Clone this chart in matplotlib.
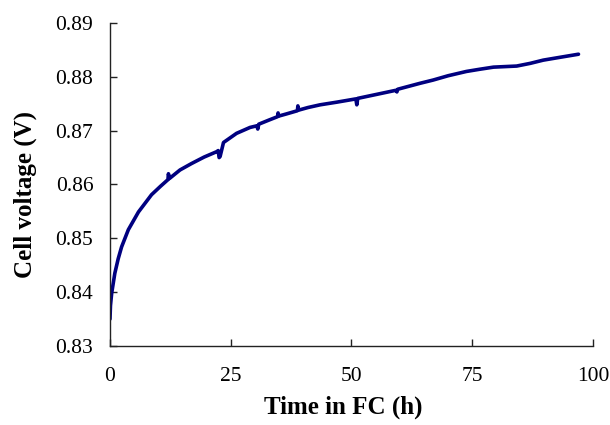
import matplotlib.pyplot as plt

# Cell voltage over time in the fuel cell
time_h = [0.0, 0.1, 0.35, 1.0, 1.7, 2.4, 3.8, 5.9, 8.6, 10.5, 12.0, 12.1, 12.3,
          14.5, 16.9, 19.5, 22.1, 22.4, 22.6, 22.8, 23.5, 26.2, 29.0,
          30.4, 30.6, 30.8, 33.0, 34.7, 34.8, 34.9, 36.5, 38.8, 38.9, 39.0,
          41.0, 43.5, 47.0, 50.9, 51.1, 51.3, 55.0, 59.2, 59.4, 59.6,
          64.2, 66.9, 70.0, 73.8, 76.5, 79.4, 84.2, 87.0, 89.7, 93.0, 97.0]
voltage_v = [0.8350, 0.8375, 0.8398, 0.8435, 0.8462, 0.8484, 0.8516, 0.8549, 0.8581,
             0.8597, 0.8609, 0.8620, 0.8611,
             0.8627, 0.8639, 0.8651, 0.8661, 0.8663, 0.8650, 0.8652, 0.8678, 0.8695, 0.8706,
             0.8709, 0.8703, 0.8712, 0.8720, 0.8726, 0.8733, 0.8727, 0.8731, 0.8737, 0.8746, 0.8738,
             0.8743, 0.8748, 0.8753, 0.8759, 0.8748, 0.8760, 0.8767, 0.8775, 0.8772, 0.8777,
             0.8788, 0.8794, 0.8802, 0.8810, 0.8814, 0.8818, 0.8820, 0.8825, 0.8831, 0.8836, 0.8842]

x_ticks = [0, 25, 50, 75, 100]
y_ticks = [0.83, 0.84, 0.85, 0.86, 0.87, 0.88, 0.89]

plt.rcParams['font.family'] = ['Liberation Serif', 'DejaVu Serif']

fig = plt.figure(figsize=(6.1, 4.25), dpi=100)
ax = fig.add_axes([0.1803, 0.1859, 0.7918, 0.76])

ax.plot(time_h, voltage_v, color='#000080', linewidth=2.6, solid_capstyle='round')

ax.set_xlim(0, 100)
ax.set_ylim(0.83, 0.89)
ax.set_xticks(x_ticks)
ax.set_xticklabels([str(t) for t in x_ticks])
ax.set_yticks(y_ticks)
ax.set_yticklabels([f"{v:.2f}" for v in y_ticks])

for side in ('top', 'right'):
    ax.spines[side].set_visible(False)
for side in ('left', 'bottom'):
    ax.spines[side].set_linewidth(1.0)
    ax.spines[side].set_color('#222222')

ax.tick_params(direction='in', length=5, width=1.0, color='#222222', labelsize=15.5)
ax.tick_params(axis='x', pad=15)
ax.tick_params(axis='y', pad=12)

ax.set_xlabel('Time in FC (h)', fontsize=18, fontweight='bold')
ax.set_ylabel('Cell voltage (V)', fontsize=18, fontweight='bold')
ax.xaxis.set_label_coords(0.483, -0.152)
ax.yaxis.set_label_coords(-0.152, 0.47)

fig.savefig('out.png', dpi=100)
